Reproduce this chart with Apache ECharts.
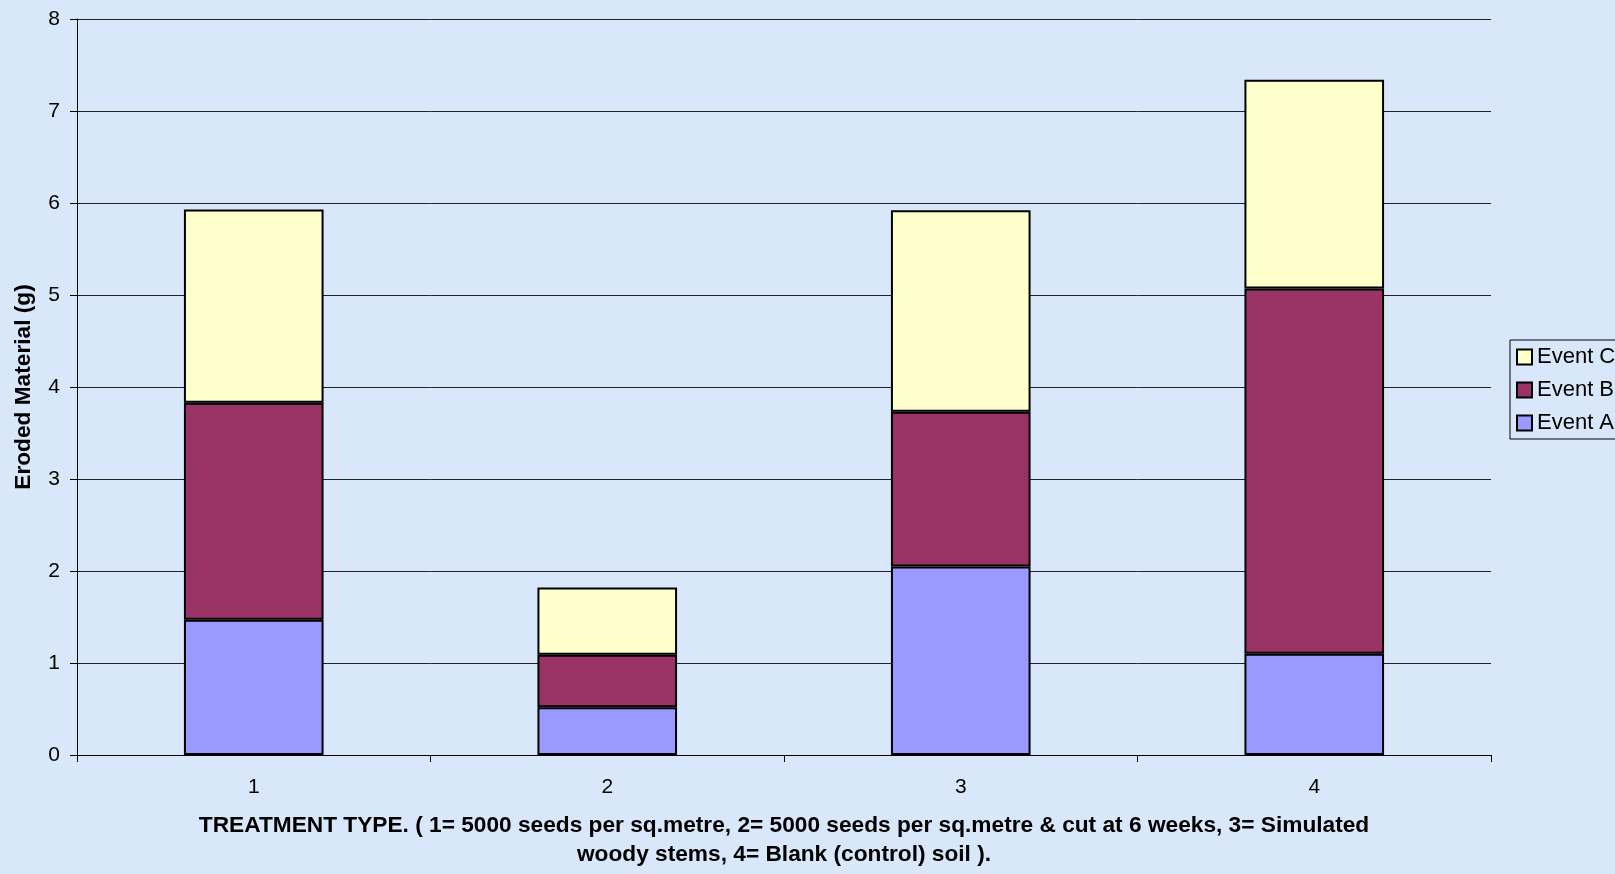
<!DOCTYPE html>
<html>
<head>
<meta charset="utf-8">
<script src="https://cdn.jsdelivr.net/npm/echarts@6/dist/echarts.min.js"></script>
<style>
html,body{margin:0;padding:0;background:#d8e8fa;overflow:hidden;}
#chart{width:1615px;height:874px;}
</style>
</head>
<body>
<div id="chart"></div>
<script>
var categories = ['1', '2', '3', '4'];
var eventA = [1.47, 0.52, 2.05, 1.10];
var eventB = [2.36, 0.57, 1.68, 3.97];
var eventC = [2.10, 0.73, 2.19, 2.27];
var yTicks = [0, 1, 2, 3, 4, 5, 6, 7, 8];
var xTitle = 'TREATMENT TYPE. ( 1= 5000 seeds per sq.metre, 2= 5000 seeds per sq.metre & cut at 6 weeks, 3= Simulated\nwoody stems, 4= Blank (control) soil ).';
var yTitle = 'Eroded Material (g)';

var font = 'Liberation Sans, Arial, sans-serif';
var chart = echarts.init(document.getElementById('chart'));
function bar(name, data, color) {
  return {
    name: name, type: 'bar', stack: 'total', data: data,
    barWidth: '39.5%',
    itemStyle: { color: color, borderColor: '#000', borderWidth: 2 },
    emphasis: { disabled: true }
  };
}
chart.setOption({
  backgroundColor: '#d8e8fa',
  animation: false,
  textStyle: { fontFamily: font, color: '#000' },
  grid: { left: 77, top: 19, width: 1414, height: 742, containLabel: false },
  legend: {
    orient: 'vertical', left: 1510, top: 340,
    data: ['Event C', 'Event B', 'Event A'],
    itemWidth: 15, itemHeight: 15, itemGap: 11,
    padding: [6, 8, 5, 6],
    borderColor: '#000', borderWidth: 1,
    textStyle: { fontFamily: font, fontSize: 22, color: '#000' },
    icon: 'rect'
  },
  xAxis: {
    type: 'category', data: categories,
    name: xTitle, nameLocation: 'middle', nameGap: 56,
    nameTextStyle: { fontFamily: font, fontSize: 22.7, fontWeight: 'bold', lineHeight: 29, color: '#000' },
    axisLine: { lineStyle: { color: '#000', width: 1 } },
    axisTick: { show: true, length: 7, alignWithLabel: false, lineStyle: { color: '#000' } },
    axisLabel: { fontFamily: font, fontSize: 21, color: '#000', margin: 22 },
    splitLine: { show: false }
  },
  yAxis: {
    type: 'value', min: yTicks[0], max: yTicks[yTicks.length - 1], interval: 1,
    name: yTitle, nameLocation: 'middle', nameGap: 42,
    nameTextStyle: { fontFamily: font, fontSize: 22.7, fontWeight: 'bold', color: '#000' },
    axisLine: { show: true, lineStyle: { color: '#000', width: 1 } },
    axisTick: { show: true, length: 7, lineStyle: { color: '#000' } },
    axisLabel: { fontFamily: font, fontSize: 21, color: '#000', margin: 17 },
    splitLine: { show: true, lineStyle: { color: '#222', width: 1 } }
  },
  series: [
    bar('Event A', eventA, '#9999FF'),
    bar('Event B', eventB, '#993366'),
    bar('Event C', eventC, '#FFFFCC')
  ]
});
</script>
</body>
</html>
